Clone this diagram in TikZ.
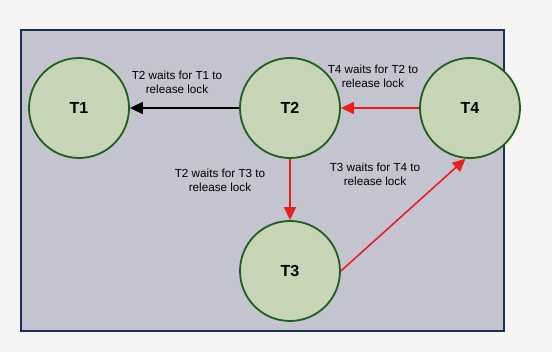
\documentclass[tikz,border=0pt]{standalone}
\usepackage{fontspec}
\setmainfont{Liberation Sans}
\usetikzlibrary{arrows.meta}
\definecolor{pagebg}{HTML}{F5F4F2}
\definecolor{panelbg}{HTML}{C4C4D0}
\definecolor{panelframe}{HTML}{1A3050}
\definecolor{nodefill}{HTML}{C5D5B5}
\definecolor{nodeline}{HTML}{1E5E1E}
\definecolor{redarrow}{HTML}{E8201C}
\begin{document}
\begin{tikzpicture}[x=1pt,y=1pt,
  txnode/.style={circle,draw=nodeline,line width=1.8pt,fill=nodefill,minimum size=100pt,inner sep=0pt,font=\fontsize{16}{19}\selectfont\bfseries},
  waitlabel/.style={align=center,font=\fontsize{11.7}{14}\selectfont,inner sep=0pt},
  blackedge/.style={draw=black,line width=1.6pt,-{Triangle[length=13pt,width=12pt]}},
  rededge/.style={draw=redarrow,line width=1.6pt,-{Triangle[length=13pt,width=12pt]}}]
\useasboundingbox (0,0) rectangle (552,352);
\fill[pagebg] (0,0) rectangle (552,352);
\draw[panelframe,fill=panelbg,line width=1.6pt] (21,21) rectangle (504,322);
\node[txnode] (T1) at (79,244) {T1};
\node[txnode] (T2) at (290,244) {T2};
\node[txnode] (T4) at (470,244) {T4};
\node[txnode] (T3) at (290,81) {T3};
\draw[blackedge] (T2.west) -- (T1.east);
\draw[rededge] (T4.west) -- (T2.east);
\draw[rededge] (T2.south) -- (T3.north);
\draw[rededge] (T3.east) -- (T4.-95);
\node[waitlabel] (L1) at (177,270) {T2 waits for T1 to\\release lock};
\node[waitlabel] (L2) at (373,276) {T4 waits for T2 to\\release lock};
\node[waitlabel] (L3) at (220,172) {T2 waits for T3 to\\release lock};
\node[waitlabel] (L4) at (375,178) {T3 waits for T4 to\\release lock};
\end{tikzpicture}
\end{document}
